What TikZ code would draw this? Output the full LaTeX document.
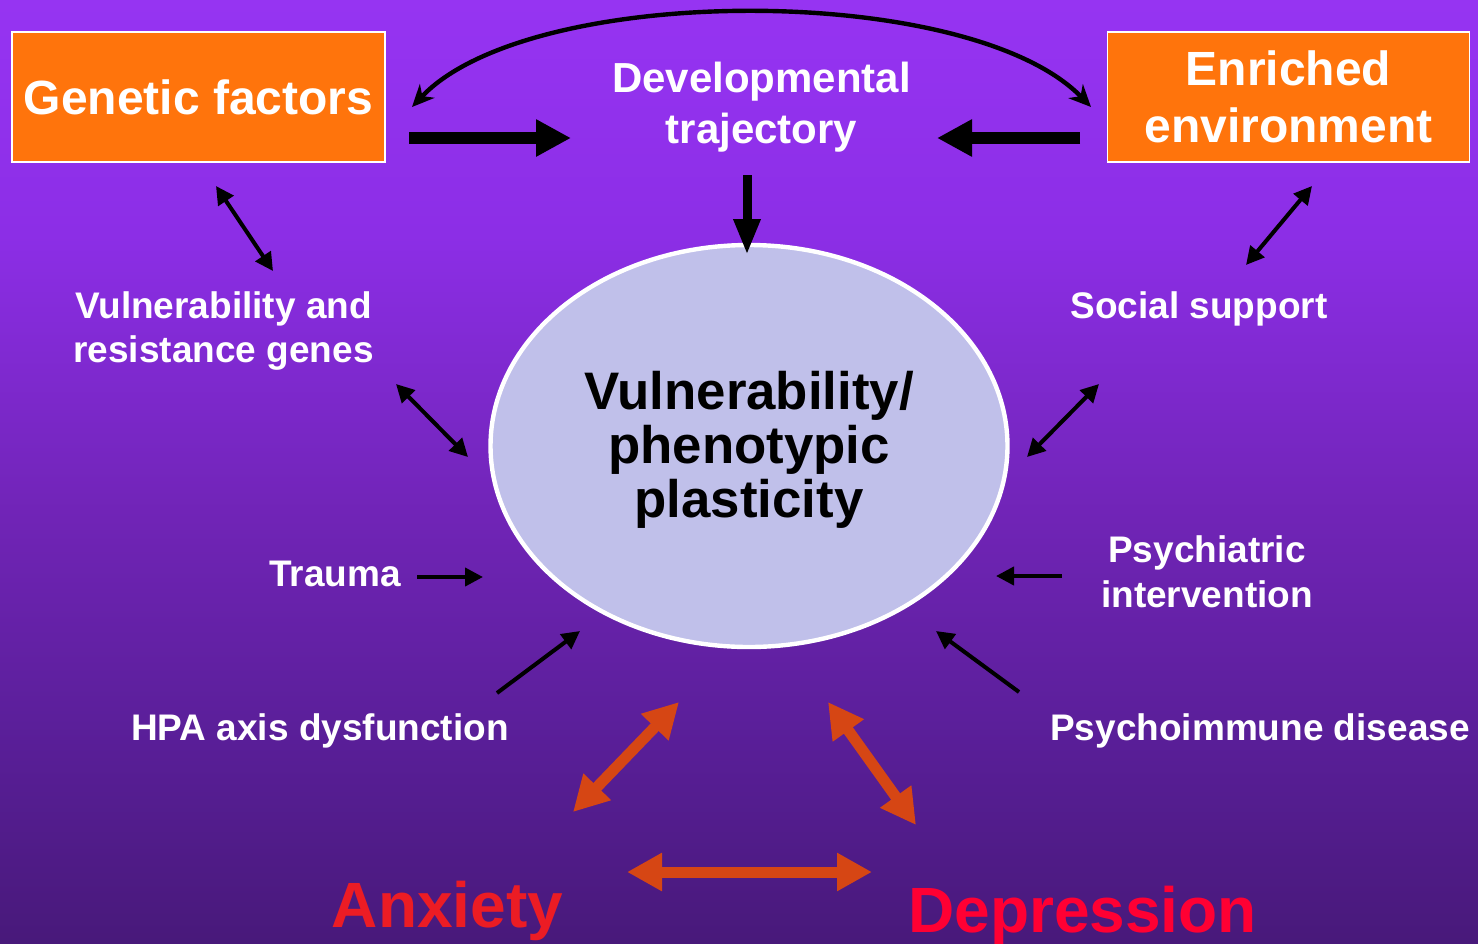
\documentclass[tikz,border=0pt]{standalone}
\usepackage{fontspec}
\setmainfont{Liberation Sans}
\usetikzlibrary{arrows.meta,shapes.geometric}

\definecolor{bgtop}{RGB}{150,52,242}
\definecolor{bga}{RGB}{140,46,230}
\definecolor{bgb}{RGB}{112,36,182}
\definecolor{bgc}{RGB}{88,30,150}
\definecolor{bgbot}{RGB}{72,25,122}
\definecolor{boxorange}{RGB}{255,116,12}
\definecolor{lavender}{RGB}{192,192,234}
\definecolor{rust}{RGB}{214,70,20}
\definecolor{anxred}{RGB}{236,28,36}
\definecolor{depred}{RGB}{255,0,51}

% violet backdrop, lighter at the top
\pgfdeclareverticalshading{violetfade}{100bp}{color(0bp)=(bgbot); color(25bp)=(bgbot); color(35bp)=(bgc); color(47.5bp)=(bgb); color(62.5bp)=(bga); color(75bp)=(bgtop); color(100bp)=(bgtop)}

\begin{document}
\begin{tikzpicture}[x=0.5pt,y=-0.5pt,
  factorbox/.style={draw=white, line width=0.6pt, fill=boxorange, text=white,
    font=\bfseries\fontsize{24}{28.5}\selectfont, align=center,
    minimum width=186.5pt, minimum height=65pt, inner sep=0pt},
  lbl/.style={text=white, font=\bfseries\fontsize{18.5}{22.3}\selectfont, align=center, inner sep=0pt},
  thin/.style={line width=2pt, -{Triangle[length=9pt,width=9pt]}},
  thinboth/.style={line width=2pt, {Triangle[length=9pt,width=9pt]}-{Triangle[length=9pt,width=9pt]}},
  bigarrow/.style={line width=6pt, -{Triangle[length=17.5pt,width=17.5pt]}},
  downarrow/.style={line width=4.5pt, -{Triangle[length=18pt,width=12.5pt]}},
  rustboth/.style={draw=rust, line width=5.5pt, {Triangle[length=17.5pt,width=18pt]}-{Triangle[length=17.5pt,width=18pt]}},
  arcboth/.style={line width=2.2pt, {Stealth[length=11pt,width=10pt,inset=3.5pt]}-{Stealth[length=11pt,width=10pt,inset=3.5pt]}},
  mood/.style={font=\bfseries\fontsize{32}{36}\selectfont, inner sep=0pt}
]
\shade[shading=violetfade] (0,0) rectangle (1478,943);
\useasboundingbox (0,0) rectangle (1478,943);

% boxes and central ellipse
\node[factorbox] (genetic) at (198.5,97) {Genetic factors};
\node[factorbox, minimum width=181pt] (enriched) at (1288.5,97) {Enriched\\environment};
\node[ellipse, draw=white, line width=2.2pt, fill=lavender, minimum width=258.5pt, minimum height=201pt] (plast) at (749,446) {};
\node[align=center, inner sep=0pt, font=\bfseries\fontsize{26.4}{27}\selectfont] (plasttext) at (749,450)
  {Vulnerability/\\phenotypic\\plasticity};

% labels
\node[lbl, font=\bfseries\fontsize{21}{25.5}\selectfont] (devel) at (761.5,107.5) {Developmental\\trajectory};
\node[lbl] (genes) at (223.5,331) {Vulnerability and\\resistance genes};
\node[lbl] (social) at (1199,308.5) {Social support};
\node[lbl] (trauma) at (335,573.5) {Trauma};
\node[lbl] (hpa) at (320,730.5) {HPA axis dysfunction};
\node[lbl] (psych) at (1207,571.5) {Psychiatric\\intervention};
\node[lbl] (immune) at (1260,730.5) {Psychoimmune disease};
\node[mood, text=anxred] (anx) at (447.5,910.5) {Anxiety};
\node[mood, text=depred] (dep) at (1082.5,916) {Depression};

% connector end points
\coordinate (gArc) at (412,107);
\coordinate (eArc) at (1091,107);
\coordinate (gOut) at (409,138);
\coordinate (dIn) at (571,138);
\coordinate (eOut) at (1080,138);
\coordinate (dIn2) at (937,138);
\coordinate (dOut) at (747,175);
\coordinate (pTop) at (747,255);
\coordinate (gLow) at (216,186);
\coordinate (genUp) at (273,271);
\coordinate (genLow) at (396,384);
\coordinate (pGen) at (468,457);
\coordinate (eLow) at (1312,186);
\coordinate (socUp) at (1246,265);
\coordinate (socLow) at (1099,384);
\coordinate (pSoc) at (1027,457);
\coordinate (trOut) at (417,577);
\coordinate (pTr) at (483,577);
\coordinate (psOut) at (1062,576);
\coordinate (pPs) at (996,576);
\coordinate (hpaOut) at (497,693);
\coordinate (pHpa) at (580,631);
\coordinate (imOut) at (1019,692);
\coordinate (pIm) at (936,631);
\coordinate (pAnx) at (679,702);
\coordinate (anxUp) at (573,812);
\coordinate (pDep) at (828,702);
\coordinate (depUp) at (916,825);
\coordinate (anxR) at (627,872);
\coordinate (depL) at (872,872);

% connectors
\draw[arcboth] (gArc) .. controls (530,-18) and (970,-18) .. (eArc);
\draw[bigarrow] (gOut) -- (dIn);
\draw[bigarrow] (eOut) -- (dIn2);
\draw[downarrow] (dOut) -- (pTop);
\draw[thinboth] (gLow) -- (genUp);
\draw[thinboth] (genLow) -- (pGen);
\draw[thinboth] (eLow) -- (socUp);
\draw[thinboth] (socLow) -- (pSoc);
\draw[thin] (trOut) -- (pTr);
\draw[thin] (psOut) -- (pPs);
\draw[thin] (hpaOut) -- (pHpa);
\draw[thin] (imOut) -- (pIm);
\draw[rustboth] (pAnx) -- (anxUp);
\draw[rustboth] (pDep) -- (depUp);
\draw[rustboth] (anxR) -- (depL);
\end{tikzpicture}
\end{document}
